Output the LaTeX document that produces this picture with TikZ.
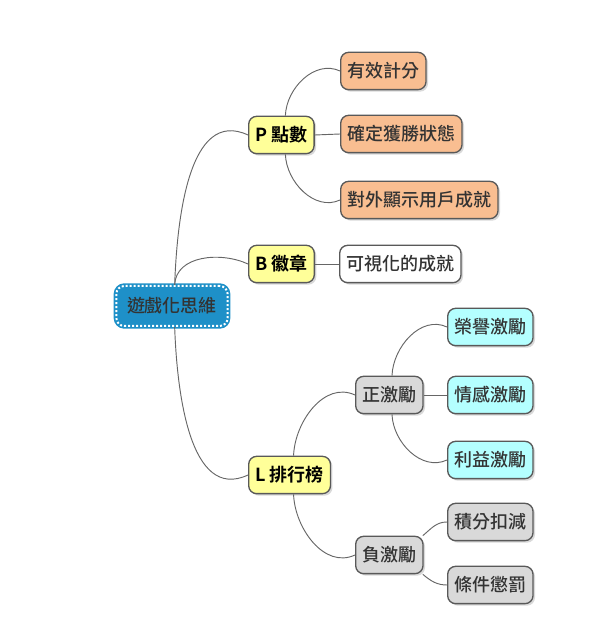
\documentclass[tikz,border=0pt]{standalone}
\usepackage{fontspec}
\setmainfont{Noto Sans CJK TC Medium}[BoldFont={Noto Sans CJK TC Bold}]
\usetikzlibrary{shadows}

\definecolor{rootblue}{HTML}{1E90C8}
\definecolor{topicyellow}{HTML}{FFFF99}
\definecolor{peach}{HTML}{F9BE91}
\definecolor{lightgray}{HTML}{D9D9D9}
\definecolor{lightcyan}{HTML}{B4FFFF}

\tikzset{
  topic/.style={draw=black!65, line width=1pt, rounded corners=6pt,
    minimum height=28pt, inner xsep=5pt, text=black!80,
    font=\fontsize{13.5}{16}\selectfont, anchor=west,
    drop shadow={opacity=0.3, shadow xshift=1.5pt, shadow yshift=-1.5pt}},
  rootnode/.style={topic, anchor=center, fill=rootblue, draw=white,
    line width=1.5pt, dash pattern=on 1.5pt off 1.5pt,
    preaction={draw=rootblue, line width=4pt, solid},
    minimum height=30pt, inner xsep=8pt},
  mainnode/.style={topic, fill=topicyellow, text=black, font=\fontsize{13.5}{16}\selectfont\bfseries},
  pointnode/.style={topic, fill=peach},
  badgenode/.style={topic, fill=white},
  rewardnode/.style={topic, fill=lightgray},
  plusnode/.style={topic, fill=lightcyan},
  minusnode/.style={topic, fill=lightgray},
  conn/.style={draw=black!60, line width=0.7pt},
  up/.style={out=88, in=155},
  down/.style={out=-88, in=205}
}

\begin{document}
\begin{tikzpicture}[x=0.75pt, y=0.75pt]
    \useasboundingbox (0,0) rectangle (600,626);

    % Root
    \node[rootnode] (root) at (172,320) {遊戲化思維};

    % Main branches
    \node[mainnode] (points) at (248,491) {P 點數};
    \node[mainnode] (badges) at (248,362) {B 徽章};
    \node[mainnode] (board) at (248,151) {L 排行榜};

    % Points
    \node[pointnode] (score) at (340,555) {有效計分};
    \node[pointnode] (winstate) at (340,492) {確定獲勝狀態};
    \node[pointnode] (showoff) at (340,426) {對外顯示用戶成就};

    % Badges
    \node[badgenode] (visible) at (339,362) {可視化的成就};

    % Leaderboard
    \node[rewardnode] (plus) at (355,231) {正激勵};
    \node[rewardnode] (minus) at (355,71) {負激勵};
    \node[plusnode] (honor) at (447,299) {榮譽激勵};
    \node[plusnode] (feeling) at (447,231) {情感激勵};
    \node[plusnode] (profit) at (447,166) {利益激勵};
    \node[minusnode] (deduct) at (447,104) {積分扣減};
    \node[minusnode] (penalty) at (447,41) {條件懲罰};

    % Connectors
    \draw[conn] ([xshift=2pt]root.north) to[up] (points.west);
    \draw[conn] ([xshift=2pt]root.north) to[up] (badges.west);
    \draw[conn] ([xshift=2pt]root.south) to[down] (board.west);
    \draw[conn] ([xshift=3pt]points.north) to[up] (score.west);
    \draw[conn] (points.east) -- (winstate.west);
    \draw[conn] ([xshift=3pt]points.south) to[down] (showoff.west);
    \draw[conn] (badges.east) -- (visible.west);
    \draw[conn] ([xshift=3pt]board.north) to[up] (plus.west);
    \draw[conn] ([xshift=3pt]board.south) to[down] (minus.west);
    \draw[conn] ([xshift=2pt]plus.north) to[up] (honor.west);
    \draw[conn] (plus.east) -- (feeling.west);
    \draw[conn] ([xshift=2pt]plus.south) to[down] (profit.west);
    \draw[conn] (minus.30) to[out=40,in=180] (deduct.west);
    \draw[conn] (minus.-30) to[out=-40,in=180] (penalty.west);
\end{tikzpicture}
\end{document}
